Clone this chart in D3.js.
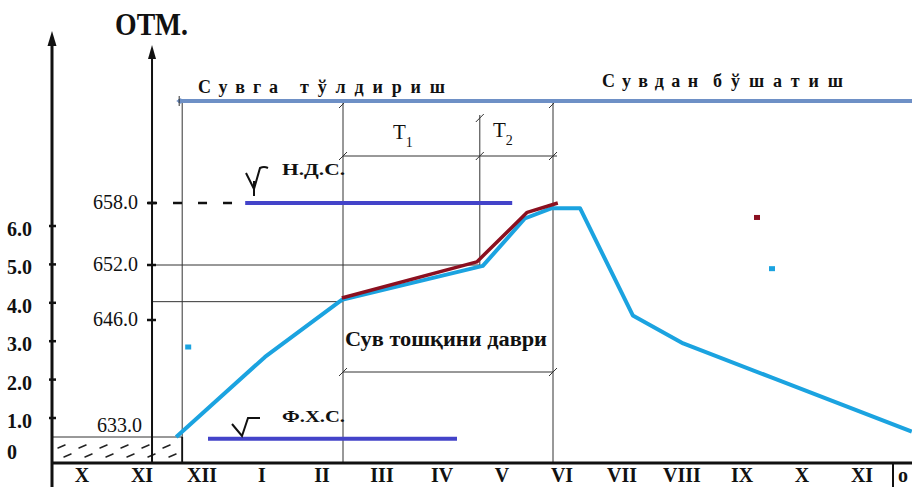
<!DOCTYPE html>
<html><head><meta charset="utf-8">
<script src="https://cdn.jsdelivr.net/npm/d3@7"></script>
<style>html,body{margin:0;padding:0;background:#fff;overflow:hidden}</style>
</head><body><svg id="c" width="912" height="487"></svg>
<script>
// ---- data (x in months counted from the start of October, y in elevation "ОТМ") ----
const monthLabels = ["X","XI","XII","I","II","III","IV","V","VI","VII","VIII","IX","X","XI"];
const nextMonthLabel = "o";
const heightTicks = [0, 1, 2, 3, 4, 5, 6];
const elevTicks = [658, 652, 646];
const elevBase = 633;
// cyan fill / drawdown curve
const curveMonths = [2.07, 3.55, 4.83, 7.18, 7.88, 8.33, 8.80, 9.68, 10.52, 12.0, 14.33];
const curveElev   = [633.0, 641.9, 648.2, 651.9, 656.5, 657.5, 657.5, 646.5, 643.4, 639.6, 633.6];
// dark red flood-period curve
const floodMonths = [4.83, 7.08, 7.92, 8.43];
const floodElev   = [648.4, 652.3, 657.1, 658.0];
// levels
const ndsLevel = 658, ndsFrom = 3.22, ndsTo = 7.67;
const fhsLevel = 632.8, fhsFrom = 2.6, fhsTo = 6.75;
const febEndLevel = 648.0;
// event times (months)
const elevAxisAt = 1.667, fillStart = 2.17, floodStart = 4.85, t1End = 7.13, floodEnd = 8.35;
// stray marks in the original scan
const strayMarks = [[2.27, 643.0, "#1ba3e0"], [11.75, 656.6, "#8b1020"], [12.0, 651.6, "#1ba3e0"]];

// ---- scales ----
const x = d3.scaleLinear().domain([0, 14]).range([52, 892]);
const yE = d3.scaleLinear().domain([633, 646, 652, 658]).range([437, 320, 265, 203]);
const yH = d3.scaleLinear().domain([1, 6]).range([421, 229]);

const svg = d3.select("#c");
const serif = "'Liberation Serif','DejaVu Serif',serif";
const black = "#111";
const cyan = "#1ba3e0", maroon = "#8b1020", levelBlue = "#4343c9", topBlue = "#6e90c6";

const baseY = 463, bottomY = 487;
const axX = x(0), elX = x(elevAxisAt);

// ---- thin construction lines ----
const thin = svg.append("g").attr("stroke", "#333").attr("stroke-width", 1).attr("fill", "none");
const topY = 101;
[fillStart, floodStart, floodEnd].forEach(m => thin.append("line").attr("x1", x(m)).attr("x2", x(m)).attr("y1", topY).attr("y2", baseY));
thin.append("line").attr("x1", x(t1End)).attr("x2", x(t1End)).attr("y1", 115).attr("y2", yE(curveElev[3]));
// horizontal level lines
thin.append("line").attr("x1", elX).attr("x2", x(t1End)).attr("y1", yE(652)).attr("y2", yE(652));
thin.append("line").attr("x1", elX).attr("x2", x(floodStart)).attr("y1", yE(febEndLevel)).attr("y2", yE(febEndLevel));
thin.append("line").attr("x1", axX).attr("x2", x(fillStart)).attr("y1", yE(elevBase)).attr("y2", yE(elevBase));
// dimension lines
const tY = 156, fY = 372;
thin.append("line").attr("x1", x(floodStart)).attr("x2", x(floodEnd) + 4).attr("y1", tY).attr("y2", tY);
thin.append("line").attr("x1", x(floodStart)).attr("x2", x(floodEnd)).attr("y1", fY).attr("y2", fY);
[[floodStart, tY], [t1End, tY], [floodEnd, tY], [floodStart, fY], [floodEnd, fY], [floodStart, topY + 3], [floodEnd, topY + 3], [t1End, 118]].forEach(([m, yy]) => {
  thin.append("line").attr("x1", x(m) - 4).attr("x2", x(m) + 4).attr("y1", yy + 4).attr("y2", yy - 4);
});

// hatching (water below base level): sparse short slanted dashes
const hatch = svg.append("g").attr("stroke", "#222").attr("stroke-width", 1.5).attr("stroke-linecap", "round");
const rows = [[446, 58], [455, 64]];
rows.forEach(([yy, start]) => {
  for (let xx = start; xx < x(fillStart) - 8; xx += 21) {
    hatch.append("line").attr("x1", xx).attr("y1", yy + 2).attr("x2", xx + 7).attr("y2", yy - 1);
  }
});
svg.append("line").attr("x1", x(fillStart)).attr("x2", x(fillStart)).attr("y1", yE(elevBase)).attr("y2", baseY)
  .attr("stroke", black).attr("stroke-width", 1.8);

// ---- axes ----
svg.append("line").attr("x1", axX).attr("x2", axX).attr("y1", bottomY).attr("y2", 40)
  .attr("stroke", black).attr("stroke-width", 3);
svg.append("path").attr("d", `M${axX - 4.5},46 L${axX},31 L${axX + 4.5},46 Z`).attr("fill", black);
svg.append("line").attr("x1", elX).attr("x2", elX).attr("y1", baseY).attr("y2", 52)
  .attr("stroke", black).attr("stroke-width", 2);
svg.append("path").attr("d", `M${elX - 4},59 L${elX},45 L${elX + 4},59 Z`).attr("fill", black);
svg.append("line").attr("x1", axX).attr("x2", 912).attr("y1", baseY).attr("y2", baseY)
  .attr("stroke", black).attr("stroke-width", 3);
svg.append("line").attr("x1", x(14) + 1).attr("x2", x(14) + 1).attr("y1", baseY).attr("y2", bottomY)
  .attr("stroke", black).attr("stroke-width", 2);

// left height axis ticks + labels
heightTicks.forEach(v => {
  if (v > 0) svg.append("line").attr("x1", axX - 3).attr("x2", axX + 4).attr("y1", yH(v) - 3).attr("y2", yH(v) - 3)
    .attr("stroke", black).attr("stroke-width", 2.5);
  svg.append("text").attr("x", 7).attr("y", v === 0 ? yH(v) - 7 : yH(v)).attr("dy", "0.35em")
    .attr("font-family", serif).attr("font-weight", "bold").attr("font-size", 20).attr("fill", black)
    .text(v === 0 ? "0" : v.toFixed(1));
});

// elevation axis ticks + labels
elevTicks.forEach(v => {
  svg.append("line").attr("x1", elX - 5).attr("x2", elX + 4).attr("y1", yE(v)).attr("y2", yE(v))
    .attr("stroke", black).attr("stroke-width", 2.5);
  svg.append("text").attr("x", elX - 14).attr("y", yE(v) + 6)
    .attr("text-anchor", "end").attr("font-family", serif).attr("font-size", 20).attr("fill", black)
    .text(v.toFixed(1));
});
svg.append("text").attr("x", elX - 10).attr("y", yE(elevBase) - 5)
  .attr("text-anchor", "end").attr("font-family", serif).attr("font-size", 20).attr("fill", black)
  .text(elevBase.toFixed(1));

svg.append("text").attr("x", 115).attr("y", 35).attr("textLength", 73).attr("lengthAdjust", "spacingAndGlyphs")
  .attr("font-family", serif).attr("font-weight", "bold").attr("font-size", 31).attr("fill", black).text("ОТМ.");

// month labels
monthLabels.forEach((m, i) => {
  svg.append("text").attr("x", x(i + 0.5)).attr("y", 482).attr("text-anchor", "middle")
    .attr("font-family", serif).attr("font-weight", "bold").attr("font-size", 20).attr("fill", black).text(m);
});
svg.append("text").attr("x", x(14) + 6).attr("y", 482)
  .attr("font-family", serif).attr("font-weight", "bold").attr("font-size", 20).attr("fill", black).text(nextMonthLabel);

// ---- top period line ----
svg.append("line").attr("x1", x(fillStart) - 4).attr("x2", 912).attr("y1", topY).attr("y2", topY)
  .attr("stroke", topBlue).attr("stroke-width", 4);
svg.append("path").attr("d", `M${x(fillStart) - 6},${topY} l5,-3 l0,6 z`).attr("fill", topBlue);
svg.append("line").attr("x1", x(fillStart) - 3).attr("x2", x(fillStart) - 3).attr("y1", topY - 5).attr("y2", topY + 5)
  .attr("stroke", "#333").attr("stroke-width", 1);
svg.append("text").attr("x", 198).attr("y", 93).attr("textLength", 80).attr("lengthAdjust", "spacing")
  .attr("font-family", serif).attr("font-weight", "bold").attr("font-size", 18).attr("fill", black).text("Сувга");
svg.append("text").attr("x", 300).attr("y", 93).attr("textLength", 145).attr("lengthAdjust", "spacing")
  .attr("font-family", serif).attr("font-weight", "bold").attr("font-size", 18).attr("fill", black).text("тўлдириш");
svg.append("text").attr("x", 602).attr("y", 87).attr("textLength", 96).attr("lengthAdjust", "spacing")
  .attr("font-family", serif).attr("font-weight", "bold").attr("font-size", 18).attr("fill", black).text("Сувдан");
svg.append("text").attr("x", 713).attr("y", 87).attr("textLength", 130).attr("lengthAdjust", "spacing")
  .attr("font-family", serif).attr("font-weight", "bold").attr("font-size", 18).attr("fill", black).text("бўшатиш");

// T1, T2
const t1 = svg.append("text").attr("x", 393).attr("y", 139).attr("font-family", serif).attr("font-size", 21).attr("fill", black);
t1.append("tspan").text("T");
t1.append("tspan").attr("dy", 8).attr("font-size", 14).text("1");
const t2 = svg.append("text").attr("x", 493).attr("y", 137).attr("font-family", serif).attr("font-size", 21).attr("fill", black);
t2.append("tspan").text("T");
t2.append("tspan").attr("dy", 8).attr("font-size", 14).text("2");

// ---- level lines ----
svg.append("line").attr("x1", elX - 4).attr("x2", x(ndsFrom) - 4).attr("y1", yE(ndsLevel)).attr("y2", yE(ndsLevel))
  .attr("stroke", black).attr("stroke-width", 2.5).attr("stroke-dasharray", "9,16");
svg.append("line").attr("x1", x(ndsFrom)).attr("x2", x(ndsTo)).attr("y1", yE(ndsLevel)).attr("y2", yE(ndsLevel))
  .attr("stroke", levelBlue).attr("stroke-width", 4);
svg.append("line").attr("x1", x(fhsFrom)).attr("x2", x(fhsTo)).attr("y1", yE(fhsLevel)).attr("y2", yE(fhsLevel))
  .attr("stroke", levelBlue).attr("stroke-width", 4);

// water-level symbols
svg.append("path").attr("d", "M246,173 L254,189 L260,168 Q264,166 268,168 M254,181 L254,196")
  .attr("fill", "none").attr("stroke", black).attr("stroke-width", 2);
svg.append("path").attr("d", "M232,424 L242,436 L248,418 L260,418")
  .attr("fill", "none").attr("stroke", black).attr("stroke-width", 2);
svg.append("text").attr("x", 282).attr("y", 175).attr("textLength", 63).attr("lengthAdjust", "spacingAndGlyphs")
  .attr("font-family", serif).attr("font-weight", "bold").attr("font-size", 17).attr("fill", black).text("Н.Д.С.");
svg.append("text").attr("x", 282).attr("y", 422).attr("textLength", 63).attr("lengthAdjust", "spacingAndGlyphs")
  .attr("font-family", serif).attr("font-weight", "bold").attr("font-size", 17).attr("fill", black).text("Ф.Х.С.");
svg.append("text").attr("x", 345).attr("y", 346).attr("textLength", 202).attr("lengthAdjust", "spacingAndGlyphs")
  .attr("font-family", serif).attr("font-weight", "bold").attr("font-size", 20).attr("fill", black).text("Сув тошқини даври");

// ---- curves ----
const line = d3.line().x(d => x(d[0])).y(d => yE(d[1]));
svg.append("path").datum(curveMonths.map((m, i) => [m, curveElev[i]])).attr("d", line)
  .attr("fill", "none").attr("stroke", cyan).attr("stroke-width", 4).attr("stroke-linejoin", "round");
svg.append("path").datum(floodMonths.map((m, i) => [m, floodElev[i]])).attr("d", line)
  .attr("fill", "none").attr("stroke", maroon).attr("stroke-width", 3.5).attr("stroke-linejoin", "round");

strayMarks.forEach(([m, e, c]) => svg.append("rect").attr("x", x(m) - 3).attr("y", yE(e) - 2.5)
  .attr("width", 6).attr("height", 5).attr("fill", c));
</script></body></html>
